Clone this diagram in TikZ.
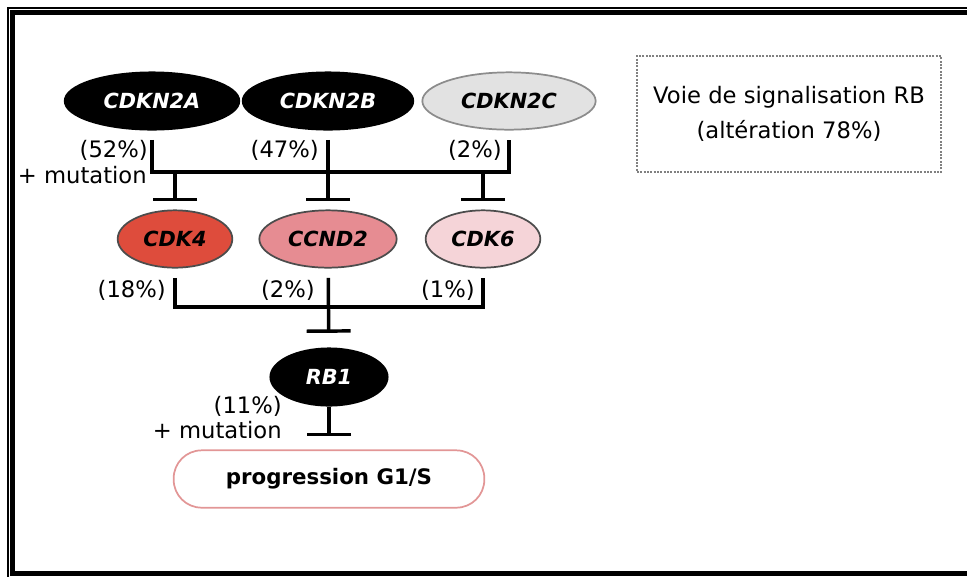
\documentclass[tikz,border=0pt]{standalone}
\usepackage{fontspec}
\setmainfont{DejaVu Sans}
\usetikzlibrary{shapes.geometric,arrows.meta}
\definecolor{cdkred}{RGB}{222,76,60}
\definecolor{cyclinpink}{RGB}{230,140,146}
\definecolor{lightpink}{RGB}{245,212,216}
\definecolor{lightgrey}{RGB}{226,226,226}
\definecolor{boxpink}{RGB}{226,150,150}
\begin{document}
\begin{tikzpicture}[x=0.75pt, y=-0.75pt,
    gene/.style={ellipse, draw=black!70, line width=1.3pt, inner sep=0pt, minimum height=43pt,
      font=\fontsize{15.6}{18}\selectfont\bfseries\itshape},
    dark/.style={gene, fill=black, draw=black, text=white},
    pct/.style={anchor=east, inner sep=0pt, font=\fontsize{17}{20}\selectfont},
    link/.style={line width=2.6pt},
    inhib/.style={link, -{Bar[width=33pt]}, shorten >=6pt}]
    \useasboundingbox (0,0) rectangle (967,576);
    \clip (0,0) rectangle (967,576);

    % Frame
    \draw[line width=1.5pt] (8,8) rectangle (1100,600);
    \draw[line width=3.75pt] (12.5,12.5) rectangle (1100,573.5);

    % Define genes
    \node[dark, minimum width=131pt] (N2A) at (152,101) {CDKN2A};
    \node[dark, minimum width=128pt] (N2B) at (328,101) {CDKN2B};
    \node[gene, fill=lightgrey, draw=black!45, minimum width=130pt] (N2C) at (509,101) {CDKN2C};
    \node[gene, fill=cdkred, minimum width=86pt] (K4) at (175,239) {CDK4};
    \node[gene, fill=cyclinpink, minimum width=103pt] (D2) at (328,239) {CCND2};
    \node[gene, fill=lightpink, minimum width=86pt] (K6) at (483,239) {CDK6};
    \node[dark, minimum width=88pt] (RB) at (329,377) {RB1};
    \node[draw=boxpink, line width=1.3pt, rounded corners=21pt, minimum width=233pt, minimum height=43pt,
      font=\fontsize{16}{19}\selectfont\bfseries] (G1S) at (329,479) {progression G1/S};
    \node[draw=gray, densely dotted, line width=1.5pt, minimum width=228pt, minimum height=87pt,
      align=center, font=\fontsize{17}{26}\selectfont] (info) at (789,114) {Voie de signalisation RB\\(altération 78\%)};

    % Junctions
    \coordinate (jA) at (152,172);
    \coordinate (jC) at (509,172);
    \coordinate (t4) at (175,172);
    \coordinate (t6) at (483,172);
    \coordinate (b4) at (175,307);
    \coordinate (b6) at (483,307);

    % Inhibitions
    \draw[link, shorten <=7pt, shorten >=7pt] (N2A) -- (jA) -- (jC) -- (N2C);
    \draw[inhib, shorten <=7pt] (N2B) -- (D2);
    \draw[inhib] (t4) -- (K4);
    \draw[inhib] (t6) -- (K6);
    \draw[link, shorten <=7pt, shorten >=7pt] (K4) -- (b4) -- (b6) -- (K6);
    \draw[inhib, shorten <=7pt, shorten >=11pt] (D2) -- (RB);
    \draw[inhib, shorten >=10pt] (RB) -- (G1S);

    % Frequencies
    \node[pct] (pA) at (148,150) {(52\%)};
    \node[pct] (mA) at (147,175) {+ mutation};
    \node[pct] (pB) at (319,150) {(47\%)};
    \node[pct] (pC) at (502,150) {(2\%)};
    \node[pct] (p4) at (166,290) {(18\%)};
    \node[pct] (p2) at (315,290) {(2\%)};
    \node[pct] (p6) at (475,290) {(1\%)};
    \node[pct] (pR) at (282,406) {(11\%)};
    \node[pct] (mR) at (282,430) {+ mutation};

    \end{tikzpicture}
\end{document}
